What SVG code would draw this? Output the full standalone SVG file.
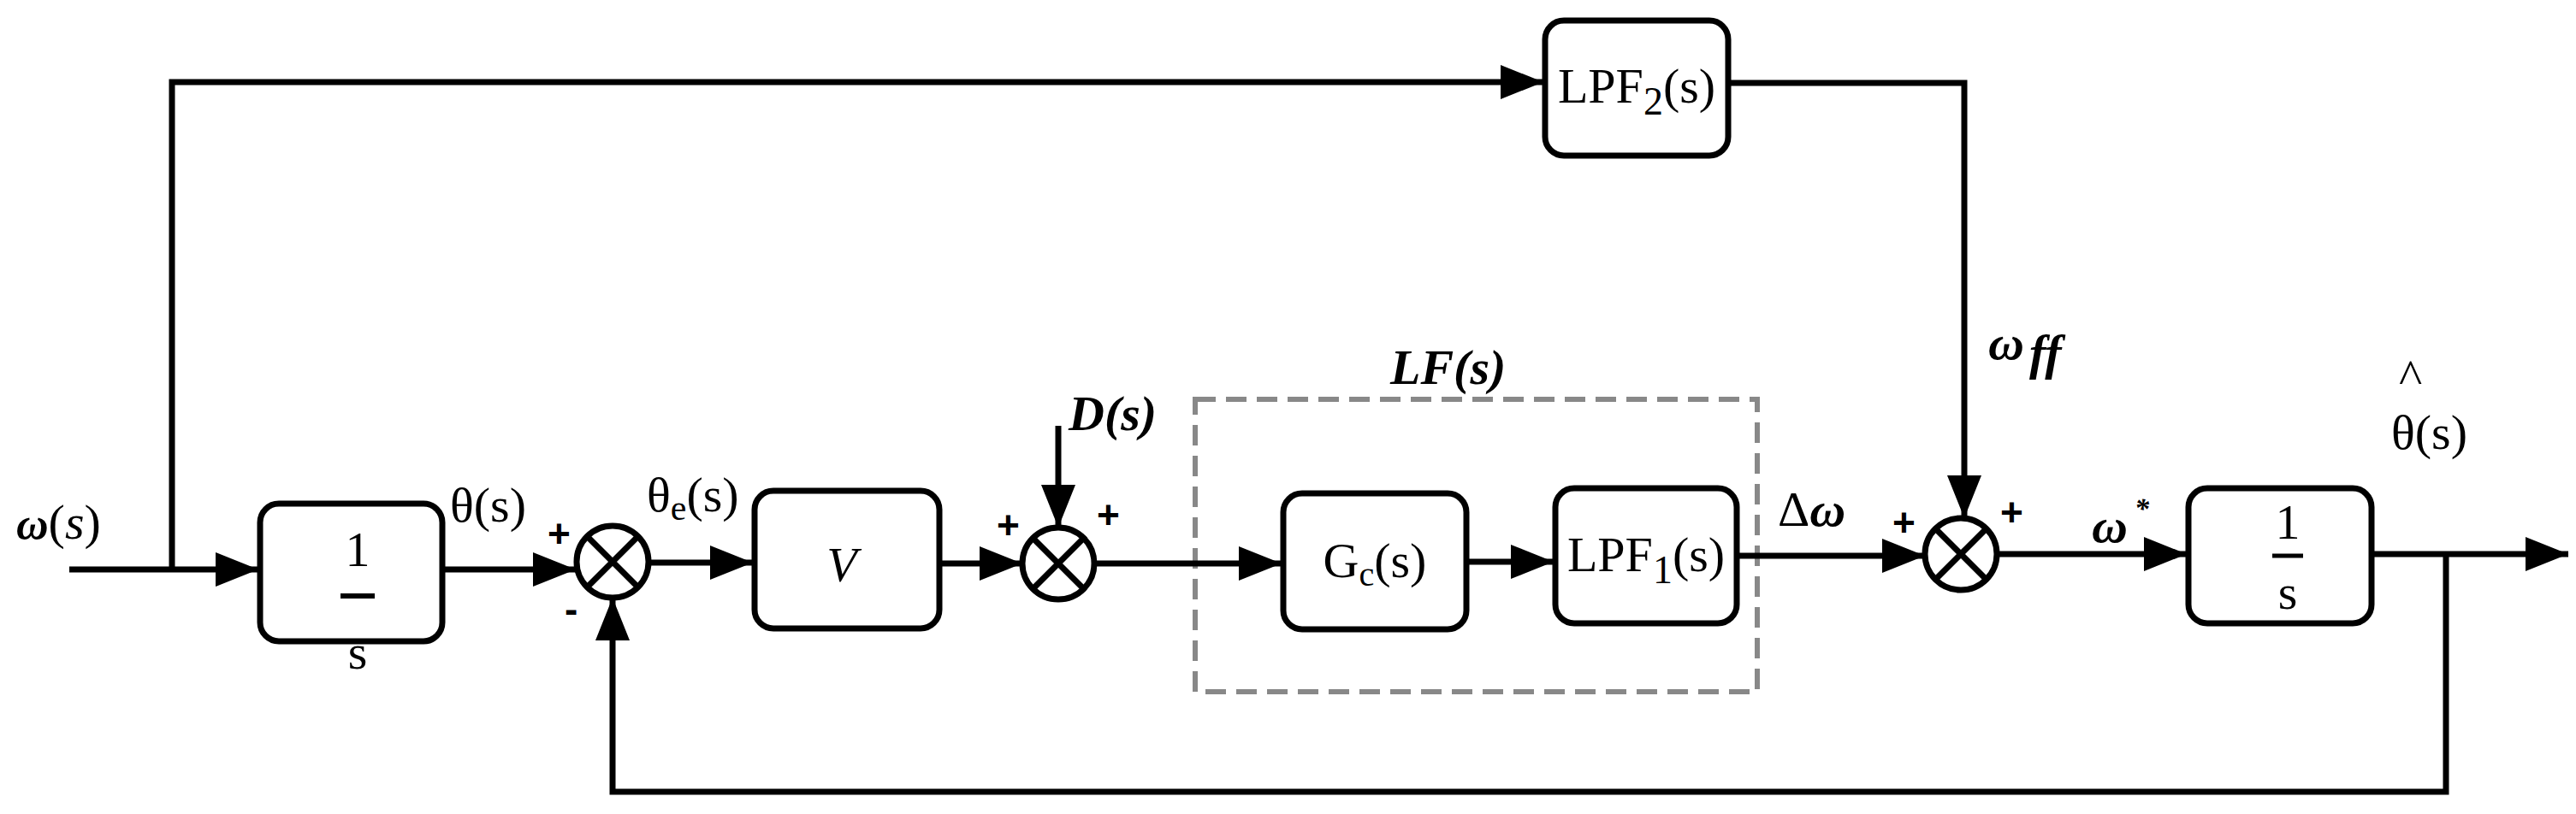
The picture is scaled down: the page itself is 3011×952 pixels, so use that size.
<svg xmlns="http://www.w3.org/2000/svg" width="3011" height="952" viewBox="0 0 3011 952">
<style>
.b{fill:#fff;stroke:#000;stroke-width:7}
.l{fill:none;stroke:#000;stroke-width:7}
.t{font-family:"Liberation Serif","Times New Roman","DejaVu Serif",serif;font-size:58px;fill:#000}
.i{font-style:italic;font-weight:bold}
.p{font-family:"Liberation Sans",Arial,sans-serif;font-weight:bold;font-size:46px}
</style>
<defs>
<marker id="A" viewBox="0 0 10 10" refX="10" refY="5" markerWidth="50" markerHeight="50" markerUnits="userSpaceOnUse" orient="auto"><path d="M0,1L10,5L0,9Z"/></marker></defs>
<rect x="1397" y="467" width="657" height="342" fill="none" stroke="#888" stroke-width="6" stroke-dasharray="24,12"/>
<g id="connectors" class="l">
<path d="M81,666H302" marker-end="url(#A)"/>
<path d="M201,666V96H1804" marker-end="url(#A)"/>
<path d="M517,666H673" marker-end="url(#A)"/>
<path d="M759,658H880" marker-end="url(#A)"/>
<path d="M1098,659H1195" marker-end="url(#A)"/>
<path d="M1237,498V617" marker-end="url(#A)"/>
<path d="M1279,659H1498" marker-end="url(#A)"/>
<path d="M1714,657H1816" marker-end="url(#A)"/>
<path d="M2030,650H2250" marker-end="url(#A)"/>
<path d="M2020,97H2296V606" marker-end="url(#A)"/>
<path d="M2334,648H2556" marker-end="url(#A)"/>
<path d="M2772,648H3002" marker-end="url(#A)"/>
<path d="M2859,648V926H716V699" marker-end="url(#A)"/>
</g>
<g id="int1"><rect class="b" x="304" y="589" width="213" height="161" rx="22"/><text class="t" x="418" y="662" text-anchor="middle" font-size="70">1</text><path d="M398,697H438" stroke="#000" stroke-width="6"/><text class="t" x="418" y="782" text-anchor="middle" font-size="70">s</text></g>
<g id="sum1"><circle class="b" cx="716" cy="657" r="42"/><path class="l" d="M686,627L746,687M746,627L686,687" stroke-width="6"/></g>
<g id="V"><rect class="b" x="882" y="574" width="216" height="161" rx="22"/><text class="t" x="984" y="680" text-anchor="middle" font-style="italic" font-size="70">V</text></g>
<g id="sum2"><circle class="b" cx="1237" cy="659" r="42"/><path class="l" d="M1207,629L1267,689M1267,629L1207,689" stroke-width="6"/></g>
<g id="Gc"><rect class="b" x="1500" y="577" width="214" height="159" rx="22"/><text class="t" x="1607" y="675" text-anchor="middle">G<tspan font-size="40" dy="10">c</tspan><tspan dy="-10">(s)</tspan></text></g>
<g id="LPF1"><rect class="b" x="1818" y="571" width="212" height="158" rx="22"/><text class="t" x="1924" y="668" text-anchor="middle" font-size="60">LPF<tspan font-size="46" dy="14">1</tspan><tspan dy="-14">(s)</tspan></text></g>
<g id="LPF2"><rect class="b" x="1806" y="24" width="214" height="158" rx="22"/><text class="t" x="1913" y="120" text-anchor="middle" font-size="60">LPF<tspan font-size="46" dy="14">2</tspan><tspan dy="-14">(s)</tspan></text></g>
<g id="sum3"><circle class="b" cx="2292" cy="648" r="42"/><path class="l" d="M2262,618L2322,678M2322,618L2262,678" stroke-width="6"/></g>
<g id="int2"><rect class="b" x="2558" y="571" width="214" height="158" rx="22"/><text class="t" x="2674" y="630" text-anchor="middle" font-size="50">1</text><path d="M2656,650H2692" stroke="#000" stroke-width="5"/><text class="t" x="2674" y="712" text-anchor="middle" font-size="50">s</text></g>
<g id="labels">
<text class="t" x="19" y="630"><tspan class="i" font-size="52">ω</tspan>(<tspan font-style="italic">s</tspan>)</text>
<text class="t" x="526" y="610" font-size="62">θ(s)</text>
<text class="t" x="756" y="598" font-size="62">θ<tspan font-size="42" dy="10">e</tspan><tspan dy="-10">(s)</tspan></text>
<text class="t i" x="1249" y="503" font-size="62">D(s)</text>
<text class="t i" x="1625" y="449" font-size="70">LF(s)</text>
<text class="t i" x="2324" y="420" font-size="46">ω<tspan dx="6" dy="12">ff</tspan></text>
<text class="t" x="2795" y="525" font-size="72">θ(s)</text>
<text class="t" x="2804" y="460" font-size="44">^</text>
<text class="t" x="2078" y="615" font-size="56"><tspan>Δ</tspan><tspan class="i">ω</tspan></text>
<text class="t i" x="2445" y="634" font-size="50">ω<tspan font-size="34" dx="8" dy="-28">*</tspan></text>
<text class="p" x="640" y="640">+</text><text class="p" x="660" y="728">-</text>
<text class="p" x="1165" y="630">+</text><text class="p" x="1282" y="618">+</text>
<text class="p" x="2212" y="627">+</text><text class="p" x="2338" y="615">+</text>
</g>
</svg>
